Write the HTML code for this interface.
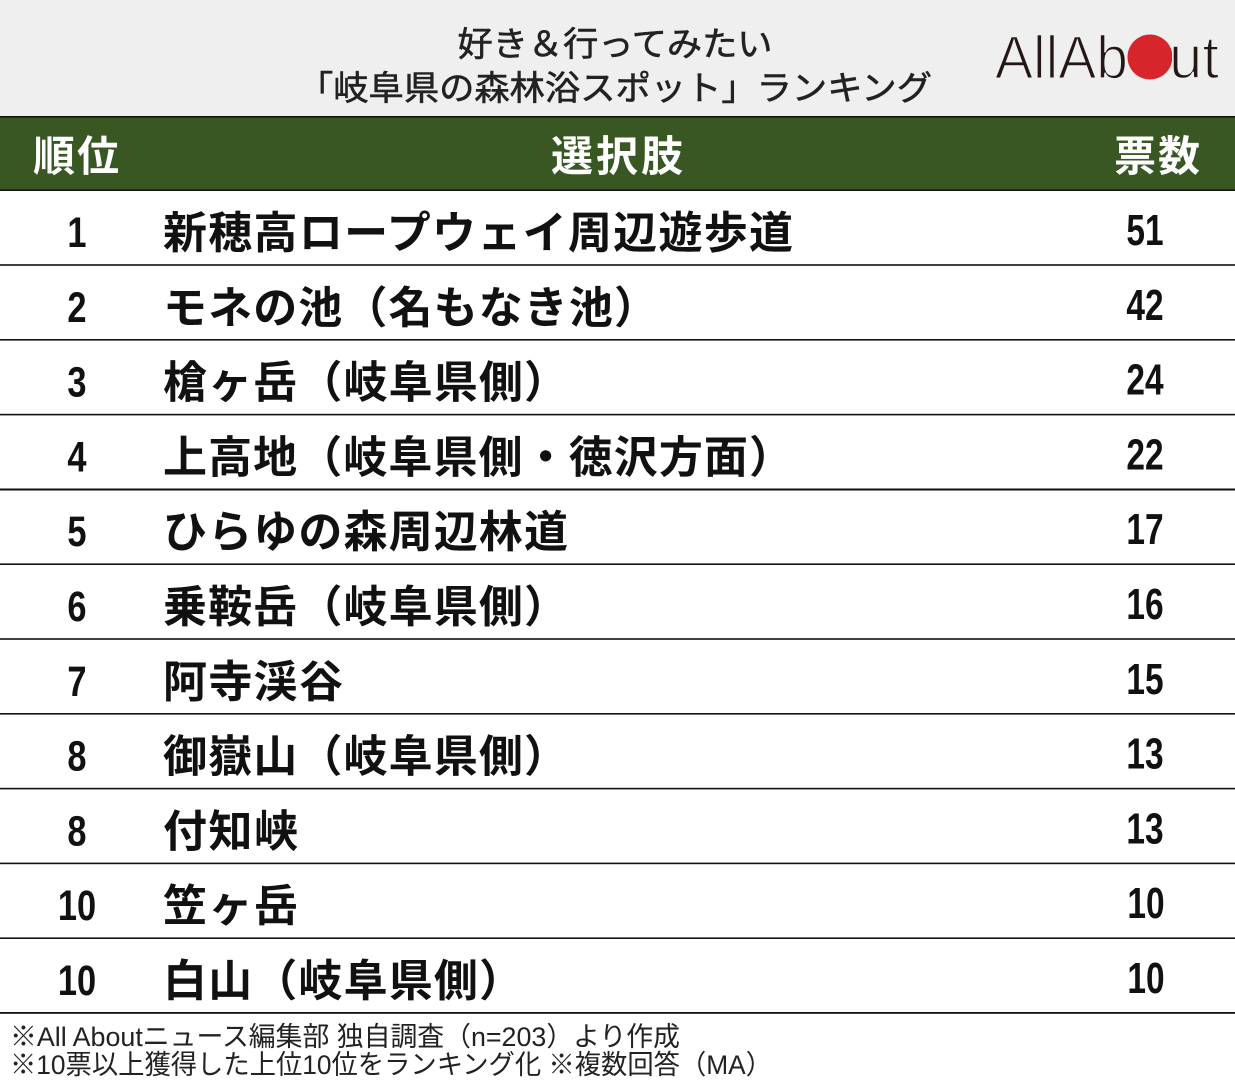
<!DOCTYPE html>
<html>
<head>
<meta charset="utf-8">
<style>
  html,body{margin:0;padding:0;background:#fff;}
  svg{display:block;}
  .jp{font-family:"Liberation Sans","Noto Sans CJK JP",sans-serif;}
  .num{font-family:"Liberation Sans",sans-serif;}
</style>
</head>
<body>
<svg width="1235" height="1090" viewBox="0 0 1235 1090" xmlns="http://www.w3.org/2000/svg">
  <!-- header band -->
  <rect x="0" y="0" width="1235" height="117" fill="#efefef"/>
  <text class="jp" x="615" y="56" font-size="34" fill="#222" stroke="#222" stroke-width="0.6" text-anchor="middle" textLength="315" lengthAdjust="spacingAndGlyphs">好き＆行ってみたい</text>
  <text class="jp" x="298" y="100" font-size="34" fill="#222" stroke="#222" stroke-width="0.6" textLength="634" lengthAdjust="spacingAndGlyphs">「岐阜県の森林浴スポット」ランキング</text>

  <!-- logo -->
  <text class="num" x="995" y="78" font-size="60" fill="#231815" stroke="#efefef" stroke-width="1.6" textLength="133" lengthAdjust="spacingAndGlyphs">AllAb</text>
  <circle cx="1150" cy="57" r="22.5" fill="#d7262b"/>
  <text class="num" x="1169" y="78" font-size="60" fill="#231815" stroke="#efefef" stroke-width="1.6" textLength="50" lengthAdjust="spacingAndGlyphs">ut</text>

  <!-- green header -->
  <rect x="0" y="116" width="1235" height="75" fill="#385723"/>
  <rect x="0" y="116" width="1235" height="1.5" fill="#111"/>
  <rect x="0" y="189.5" width="1235" height="1.5" fill="#111"/>
  <text class="jp" x="33" y="171" font-size="42" font-weight="700" fill="#fff" textLength="86" lengthAdjust="spacing">順位</text>
  <text class="jp" x="617" y="171" font-size="42" font-weight="700" fill="#fff" text-anchor="middle" textLength="132" lengthAdjust="spacing">選択肢</text>
  <text class="jp" x="1157" y="171" font-size="42" font-weight="700" fill="#fff" text-anchor="middle" textLength="86" lengthAdjust="spacing">票数</text>

  <!-- row separators -->
  <g fill="#111">
    <rect x="0" y="264.2" width="1235" height="1.6"/>
    <rect x="0" y="339" width="1235" height="1.6"/>
    <rect x="0" y="413.8" width="1235" height="1.6"/>
    <rect x="0" y="488.5" width="1235" height="2"/>
    <rect x="0" y="563.4" width="1235" height="1.6"/>
    <rect x="0" y="638.2" width="1235" height="1.6"/>
    <rect x="0" y="713" width="1235" height="1.6"/>
    <rect x="0" y="787.8" width="1235" height="1.6"/>
    <rect x="0" y="862.6" width="1235" height="1.6"/>
    <rect x="0" y="937.4" width="1235" height="1.6"/>
    <rect x="0" y="1012" width="1235" height="1.8"/>
  </g>

  <!-- rows -->
  <g class="jp" font-size="44" font-weight="700" fill="#111">
    <text x="163" y="248" textLength="630" lengthAdjust="spacing">新穂高ロープウェイ周辺遊歩道</text>
    <text x="163" y="322.8" textLength="495" lengthAdjust="spacing">モネの池（名もなき池）</text>
    <text x="163" y="397.6" textLength="405" lengthAdjust="spacing">槍ヶ岳（岐阜県側）</text>
    <text x="163" y="472.4" textLength="630" lengthAdjust="spacing">上高地（岐阜県側・徳沢方面）</text>
    <text x="163" y="547.2" textLength="405" lengthAdjust="spacing">ひらゆの森周辺林道</text>
    <text x="163" y="622" textLength="405" lengthAdjust="spacing">乗鞍岳（岐阜県側）</text>
    <text x="163" y="696.8" textLength="180" lengthAdjust="spacing">阿寺渓谷</text>
    <text x="163" y="771.6" textLength="405" lengthAdjust="spacing">御嶽山（岐阜県側）</text>
    <text x="163" y="846.4" textLength="135" lengthAdjust="spacing">付知峡</text>
    <text x="163" y="921.2" textLength="135" lengthAdjust="spacing">笠ヶ岳</text>
    <text x="163" y="996" textLength="360" lengthAdjust="spacing">白山（岐阜県側）</text>
  </g>

  <!-- ranks -->
  <g class="num" font-size="43" font-weight="700" fill="#111" text-anchor="middle">
    <g transform="translate(77,247) scale(0.8,1)"><text x="0" y="0">1</text></g>
    <g transform="translate(77,321.8) scale(0.8,1)"><text x="0" y="0">2</text></g>
    <g transform="translate(77,396.6) scale(0.8,1)"><text x="0" y="0">3</text></g>
    <g transform="translate(77,471.4) scale(0.8,1)"><text x="0" y="0">4</text></g>
    <g transform="translate(77,546.2) scale(0.8,1)"><text x="0" y="0">5</text></g>
    <g transform="translate(77,621) scale(0.8,1)"><text x="0" y="0">6</text></g>
    <g transform="translate(77,695.8) scale(0.8,1)"><text x="0" y="0">7</text></g>
    <g transform="translate(77,770.6) scale(0.8,1)"><text x="0" y="0">8</text></g>
    <g transform="translate(77,845.4) scale(0.8,1)"><text x="0" y="0">8</text></g>
    <g transform="translate(77,920.2) scale(0.8,1)"><text x="0" y="0">10</text></g>
    <g transform="translate(77,995) scale(0.8,1)"><text x="0" y="0">10</text></g>
  </g>

  <!-- votes -->
  <g class="num" font-size="44" font-weight="700" fill="#111" text-anchor="middle">
    <g transform="translate(1145,245) scale(0.76,1)"><text x="0" y="0">51</text></g>
    <g transform="translate(1145,319.8) scale(0.76,1)"><text x="0" y="0">42</text></g>
    <g transform="translate(1145,394.6) scale(0.76,1)"><text x="0" y="0">24</text></g>
    <g transform="translate(1145,469.4) scale(0.76,1)"><text x="0" y="0">22</text></g>
    <g transform="translate(1145,544.2) scale(0.76,1)"><text x="0" y="0">17</text></g>
    <g transform="translate(1145,619) scale(0.76,1)"><text x="0" y="0">16</text></g>
    <g transform="translate(1145,693.8) scale(0.76,1)"><text x="0" y="0">15</text></g>
    <g transform="translate(1145,768.6) scale(0.76,1)"><text x="0" y="0">13</text></g>
    <g transform="translate(1145,843.4) scale(0.76,1)"><text x="0" y="0">13</text></g>
    <g transform="translate(1146,918.2) scale(0.76,1)"><text x="0" y="0">10</text></g>
    <g transform="translate(1146,993) scale(0.76,1)"><text x="0" y="0">10</text></g>
  </g>

  <!-- footer -->
  <text class="jp" x="10" y="1046" font-size="27" fill="#222" textLength="670" lengthAdjust="spacingAndGlyphs">※All Aboutニュース編集部 独自調査（n=203）より作成</text>
  <text class="jp" x="10" y="1074" font-size="27" fill="#222" textLength="762" lengthAdjust="spacingAndGlyphs">※10票以上獲得した上位10位をランキング化 ※複数回答（MA）</text>
</svg>
</body>
</html>
